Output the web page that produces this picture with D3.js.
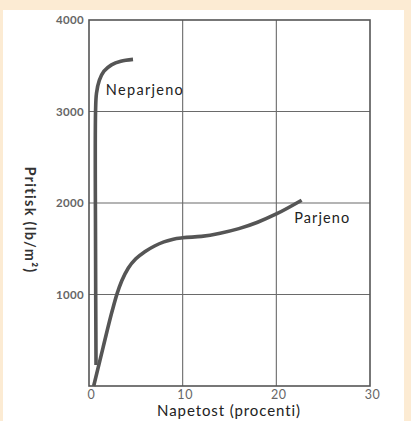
<!DOCTYPE html>
<html>
<head>
<meta charset="utf-8">
<script src="https://cdn.jsdelivr.net/npm/d3@7"></script>
<style>
  html, body { margin: 0; padding: 0; background: #fcebd3; }
  svg { display: block; }
</style>
</head>
<body>
<svg id="chart" width="411" height="421"></svg>
<script>
// Stress–strain curves: pressure (lb/m²) vs. strain (percent)
const xTicks = [0, 10, 20, 30];
const yTicks = [1000, 2000, 3000, 4000];
const seriesNames = ["Neparjeno", "Parjeno"];

const neparjenoStrain   = [0.75, 0.7, 0.7, 0.8, 1.1, 1.6, 2.4, 3.4, 4.7];
const neparjenoPressure = [230, 1500, 3000, 3200, 3340, 3440, 3510, 3550, 3570];

const parjenoStrain   = [0.5, 1.5, 2.5, 3.0, 3.5, 4.2, 5.0, 6.0, 7.0, 8.0, 9.0, 10.0, 12.0, 14.0, 16.0, 18.0, 20.0, 22.7];
const parjenoPressure = [0, 420, 830, 1010, 1150, 1290, 1390, 1470, 1530, 1575, 1605, 1620, 1635, 1670, 1720, 1790, 1880, 2030];

const svg = d3.select("#chart");
const W = 411, H = 421;
const font = "Lato, 'Open Sans', sans-serif";

// white panel inside the cream border
svg.append("rect").attr("x", 3).attr("y", 10).attr("width", 401).attr("height", H - 10).attr("fill", "#ffffff");

const m = { left: 89, right: 370, top: 20, bottom: 386 };
const x = d3.scaleLinear().domain([0, 30]).range([m.left, m.right]);
const y = d3.scaleLinear().domain([0, 4000]).range([m.bottom, m.top]);

const grid = svg.append("g");
grid.selectAll("line.v").data(xTicks.filter(d => d > 0 && d < 30)).join("line")
  .attr("x1", d => x(d)).attr("x2", d => x(d)).attr("y1", m.top).attr("y2", m.bottom)
  .attr("stroke", "#6a6a6a").attr("stroke-width", 1.1);
grid.selectAll("line.h").data(yTicks.filter(d => d < 4000)).join("line")
  .attr("y1", d => y(d)).attr("y2", d => y(d)).attr("x1", m.left).attr("x2", m.right)
  .attr("stroke", "#6a6a6a").attr("stroke-width", 1.1);

// frame
svg.append("rect").attr("x", m.left).attr("y", m.top)
  .attr("width", m.right - m.left).attr("height", m.bottom - m.top)
  .attr("fill", "none").attr("stroke", "#555").attr("stroke-width", 1.6);

// axes
const xAxis = d3.axisBottom(x).tickValues(xTicks).tickSize(0).tickPadding(4);
const gx = svg.append("g").attr("transform", `translate(0,${m.bottom})`).call(xAxis);
gx.select(".domain").remove();
gx.selectAll("text").attr("dx", 2).attr("font-size", 12.5).attr("letter-spacing", 0.6)
  .attr("font-family", font).attr("fill", "#666");

const yAxis = d3.axisLeft(y).tickValues(yTicks).tickSize(0).tickPadding(5).tickFormat(d3.format("d"));
const gy = svg.append("g").attr("transform", `translate(${m.left},0)`).call(yAxis);
gy.select(".domain").remove();
gy.selectAll("text").attr("font-size", 11.5).attr("font-weight", "bold").attr("letter-spacing", 0.3)
  .attr("font-family", font).attr("fill", "#666");

// curves
const nep = neparjenoStrain.map((s, i) => [s, neparjenoPressure[i]]);
const par = parjenoStrain.map((s, i) => [s, parjenoPressure[i]]);
const nepLine = d3.line().x(d => x(d[0])).y(d => y(d[1])).curve(d3.curveCatmullRom.alpha(0.5));
const parLine = d3.line().x(d => x(d[0])).y(d => y(d[1])).curve(d3.curveMonotoneX);

svg.append("path").datum(nep).attr("d", nepLine)
  .attr("fill", "none").attr("stroke", "#555").attr("stroke-width", 3.6);
svg.append("path").datum(par).attr("d", parLine)
  .attr("fill", "none").attr("stroke", "#555").attr("stroke-width", 3.6);

// series labels
svg.append("text").attr("x", x(1.8)).attr("y", y(3180)).text(seriesNames[0])
  .attr("font-size", 14.5).attr("letter-spacing", 1.3).attr("font-family", font).attr("fill", "#222");
svg.append("text").attr("x", x(21.9)).attr("y", y(1780)).text(seriesNames[1])
  .attr("font-size", 14.5).attr("letter-spacing", 1.1).attr("font-family", font).attr("fill", "#222");

// axis titles
svg.append("text").attr("x", 229).attr("y", 416)
  .attr("text-anchor", "middle").attr("font-size", 15).attr("letter-spacing", 0.9)
  .attr("font-family", font).attr("fill", "#222")
  .text("Napetost (procenti)");

svg.append("text").attr("transform", "translate(25,220) rotate(90)")
  .attr("text-anchor", "middle").attr("font-size", 14.5).attr("font-weight", "bold").attr("letter-spacing", 1.3)
  .attr("font-family", font).attr("fill", "#333")
  .text("Pritisk (lb/m²)");
</script>
</body>
</html>
